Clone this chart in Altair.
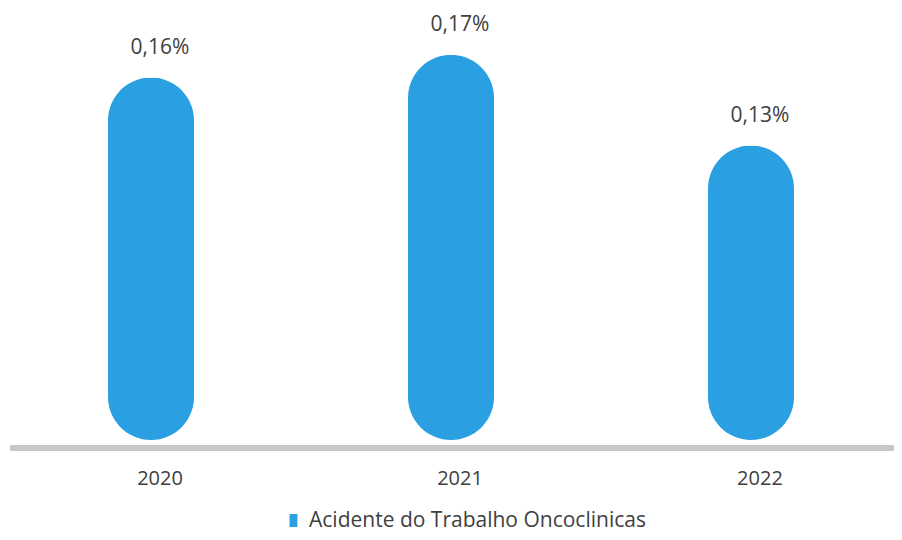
import altair as alt
import pandas as pd

years = ["2020", "2021", "2022"]
values = [0.16, 0.17, 0.13]
labels = ["0,16%", "0,17%", "0,13%"]
series = "Acidente do Trabalho Oncoclinicas"

df = pd.DataFrame({"year": years, "value": values, "label": labels, "series": [series] * 3})

FONT = "Open Sans"
BLUE = "#2A9FE1"
TXT = "#404040"

x = alt.X("year:N", sort=years,
          scale=alt.Scale(paddingInner=0.5, paddingOuter=0.2267),
          axis=alt.Axis(title=None, labelAngle=0, domain=False, ticks=False,
                        labelFontSize=20, labelFont=FONT, labelColor=TXT,
                        labelPadding=38, labelBaseline="middle", labelOffset=9))
y = alt.Y("value:Q", scale=alt.Scale(domain=[0, 0.1907], nice=False, zero=True), axis=None)

bars = alt.Chart(df).mark_bar(size=86, cornerRadius=43).encode(
    x=x, y=y,
    color=alt.Color("series:N",
                    scale=alt.Scale(domain=[series], range=[BLUE]),
                    legend=alt.Legend(title=None, orient="none", legendX=275, legendY=502,
                                      symbolType="M-0.6,-1h1.2v2h-1.2z", symbolSize=169,
                                      symbolStrokeWidth=0, labelFontSize=21, labelFont=FONT,
                                      labelColor=TXT, labelOffset=5, labelLimit=600))
)

text = alt.Chart(df).mark_text(dy=-30, dx=9, baseline="middle", fontSize=21, font=FONT, color=TXT).encode(
    x=x, y=y, text="label:N"
)

base = alt.Chart(df).mark_rule(color="#C8C8C8", strokeWidth=6).encode(
    x=alt.value(2), x2=alt.value(886), y=alt.value(440)
)

chart = alt.layer(base, bars, text).properties(
    width=886, height=432,
    autosize=alt.AutoSizeParams(type="none"),
    padding={"left": 0, "top": 0, "right": 0, "bottom": 92}
).configure_view(stroke=None)

chart.save("out.html", embed_options={"renderer": "svg", "actions": False})
